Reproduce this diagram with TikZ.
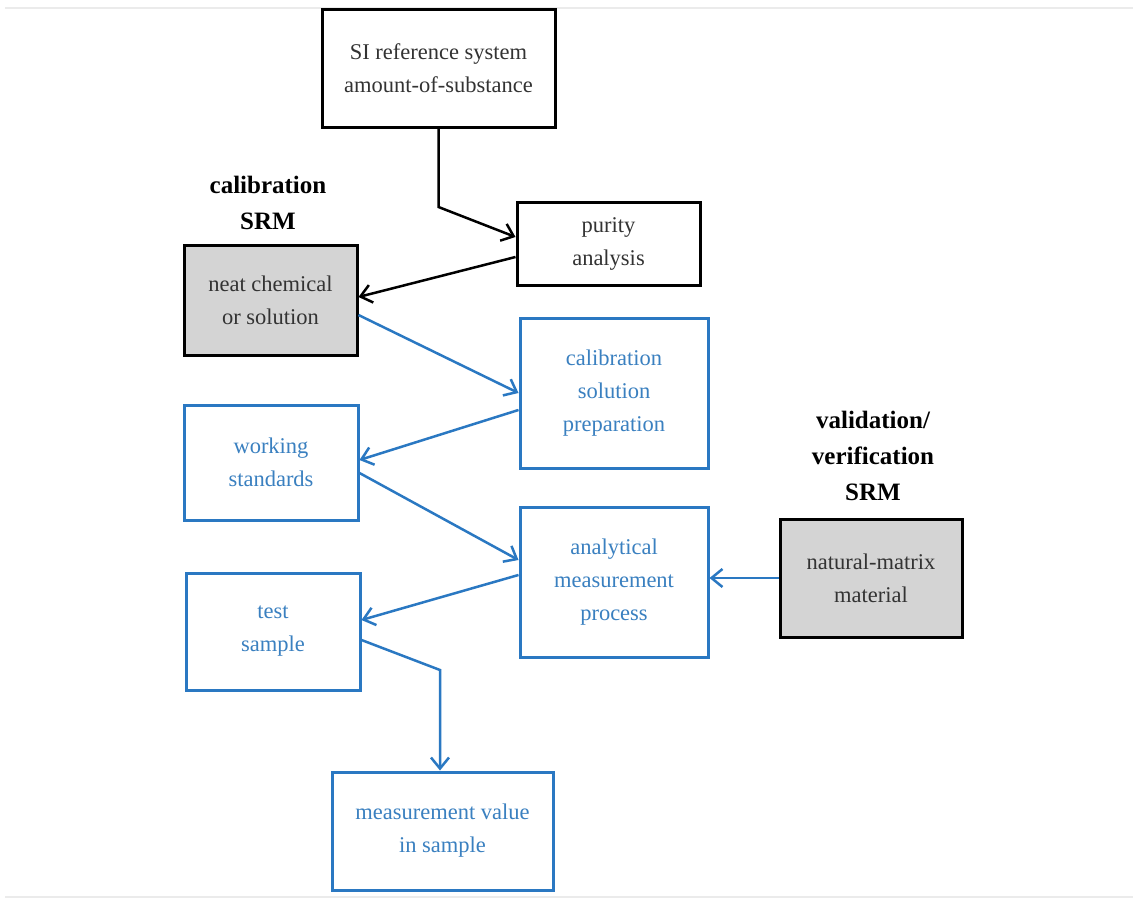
\documentclass[tikz,border=0pt]{standalone}
\usepackage{fontspec}
\setmainfont{Liberation Serif}
\usetikzlibrary{arrows.meta}
\definecolor{bl}{HTML}{2A78C2}
\definecolor{bltext}{HTML}{3A80C0}
\definecolor{gfill}{HTML}{D4D4D4}
\definecolor{txtgray}{HTML}{333333}
\begin{document}
\begin{tikzpicture}[x=1pt,y=-1pt,
  box/.style={draw=black,line width=3pt,align=center,inner sep=0pt,
     font=\fontsize{22.5}{33}\selectfont,text=txtgray},
  gbox/.style={box,fill=gfill},
  bbox/.style={box,draw=bl,text=bltext},
  lbl/.style={align=center,font=\fontsize{25}{36}\selectfont\bfseries,text=black},
  karr/.style={draw=black,line width=2.5pt,-{Straight Barb[length=11pt,width=18pt,line width=2.5pt]}},
  barr/.style={karr,draw=bl}]
\useasboundingbox (0,0) rectangle (1133,907);
\fill[white] (0,0) rectangle (1133,907);
\draw[black!8,line width=1.5pt] (5,8) -- (1133,8);
\draw[black!8,line width=1.5pt] (5,897) -- (1133,897);

\node[box,minimum width=233pt,minimum height=117pt] (si) at (438.5,68.5) {SI reference system\\amount-of-substance};
\node[box,minimum width=183pt,minimum height=83pt] (pur) at (608.5,243.5) {purity\\analysis};
\node[lbl] (callbl) at (268,203) {calibration\\SRM};
\node[gbox,minimum width=173pt,minimum height=110pt] (neat) at (270.5,300) {neat chemical\\or solution};
\node[bbox,minimum width=188pt,minimum height=150pt] (csp) at (614,393) {calibration\\solution\\preparation};
\node[bbox,minimum width=174pt,minimum height=115pt] (ws) at (271,462.5) {working\\standards};
\node[bbox,minimum width=188pt,minimum height=150pt] (amp) at (614,582) {analytical\\measurement\\process};
\node[bbox,minimum width=174pt,minimum height=117pt] (ts) at (273,631.5) {test\\sample};
\node[bbox,minimum width=221pt,minimum height=118pt] (mv) at (442.5,831) {measurement value\\in sample};
\node[lbl] (vallbl) at (873,456) {validation/\\verification\\SRM};
\node[gbox,minimum width=182pt,minimum height=118pt] (nm) at (871,578) {natural-matrix\\material};

\coordinate (c1) at (438.5,207);
\coordinate (c2) at (440,670);

\draw[karr] (si.south) -- (c1) -- (pur.west |- 0,237);
\draw[karr] (pur.west |- 0,257) -- (neat.east |- 0,297);
\draw[barr] (neat.east |- 0,315) -- (csp.west |- 0,393);
\draw[barr] (csp.west |- 0,410) -- (ws.east |- 0,460);
\draw[barr] (ws.east |- 0,473) -- (amp.west |- 0,560);
\draw[barr] (amp.west |- 0,575) -- (ts.east |- 0,620);
\draw[barr] (ts.east |- 0,640) -- (c2) -- (mv.north -| c2);
\draw[barr] (nm.west) -- (amp.east |- nm.west);
\end{tikzpicture}
\end{document}
